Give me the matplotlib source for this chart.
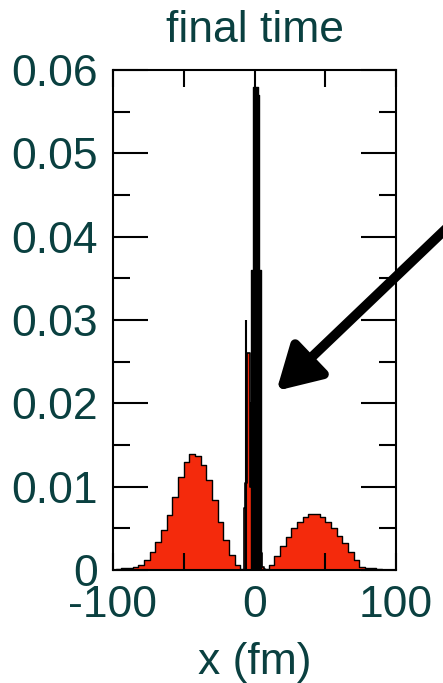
# final-time density profile: broad side humps plus narrow central spike
import matplotlib
matplotlib.use('Agg')
import matplotlib.pyplot as plt
from matplotlib.ticker import FixedLocator, NullFormatter

# broad humps, sampled every 4 fm
hump_x = [-100, -96, -92, -88, -84, -80, -76, -72, -68, -64, -60, -56, -52,
          -48, -44, -40, -36, -32, -28, -24, -20, -16, -12, -8, -4, 0,
          4, 8, 12, 16, 20, 24, 28, 32, 36, 40, 44, 48, 52, 56, 60,
          64, 68, 72, 76, 80, 84, 88, 92, 96, 100]
hump_y = [0, 0.0001, 0.0003, 0.0003, 0.0004, 0.0006, 0.0012, 0.0022, 0.0034,
          0.0048, 0.0066, 0.0088, 0.0112, 0.0130, 0.0139, 0.0137, 0.0126,
          0.0108, 0.0084, 0.0058, 0.0036, 0.0018, 0.0006, 0.0001, 0, 0,
          0, 0.0001, 0.0006, 0.0017, 0.0029, 0.0040, 0.0050, 0.0058, 0.0064,
          0.0067, 0.0067, 0.0064, 0.0058, 0.0050, 0.0041, 0.0032, 0.0022,
          0.0012, 0.0004, 0.0003, 0.0002, 0.0001, 0, 0, 0]

# red base of the central structure, every 1 fm
core_x = [-8, -7, -6, -5, -4, -3, -2, -1, 0, 1, 2, 3, 4, 5, 6, 7, 8]
core_y = [0, 0.0075, 0.0104, 0.026, 0.026, 0.010, 0.020, 0.020, 0.020,
          0.020, 0.020, 0.020, 0.0084, 0.002, 0.0004, 0.0001, 0]

# black spike on top, every 0.5 fm
spike_x = [-2.5, -2, -1.5, -1, -0.5, 0, 0.5, 1, 1.5, 2, 2.5, 3, 3.5, 4, 4.5, 5]
spike_y = [0, 0.036, 0.036, 0.036, 0.058, 0.058, 0.058, 0.058, 0.058, 0.058,
           0.057, 0.057, 0.036, 0.036, 0.036, 0]

# thin needle left of the spike
needle_x = [-5.8]
needle_y = [0.030]

xticks = [-100, 0, 100]
xminor = [-50, 50]
yticks = [0, 0.01, 0.02, 0.03, 0.04, 0.05, 0.06]
yminor = [0.005, 0.015, 0.025, 0.035, 0.045, 0.055]
ytick_labels = ['0', '0.01', '0.02', '0.03', '0.04', '0.05', '0.06']

txt = '#0a4040'
red = '#f42a0c'
plt.rcParams['font.family'] = ['Liberation Sans', 'DejaVu Sans']

fig = plt.figure(figsize=(4.43, 6.83), dpi=100)
ax = fig.add_axes([0.255, 0.1654, 0.639, 0.7321])

ax.fill_between(hump_x, hump_y, step='mid', facecolor=red, edgecolor='black', linewidth=1.0)
ax.fill_between(core_x, core_y, step='mid', facecolor=red, edgecolor='black', linewidth=1.2)
ax.fill_between(spike_x, spike_y, step='mid', facecolor='black', edgecolor='black', linewidth=1.0)
ax.vlines(needle_x, 0, needle_y, color='black', linewidth=1.5)

ax.set_xlim(-100, 100)
ax.set_ylim(0, 0.06)
ax.xaxis.set_major_locator(FixedLocator(xticks))
ax.xaxis.set_minor_locator(FixedLocator(xminor))
ax.set_xticklabels(['-100', '0', '100'])
ax.yaxis.set_major_locator(FixedLocator(yticks))
ax.yaxis.set_minor_locator(FixedLocator(yminor))
ax.set_yticklabels(ytick_labels)
ax.yaxis.set_minor_formatter(NullFormatter())

ax.tick_params(axis='both', which='both', direction='in', top=True, right=True,
               width=1.5, colors='black', labelcolor=txt, labelsize=32)
ax.tick_params(axis='x', which='both', length=12.5, pad=11)
ax.tick_params(axis='y', which='major', length=25, pad=11)
ax.tick_params(axis='y', which='minor', length=12.5)
for s in ax.spines.values():
    s.set_linewidth(1.5)

ax.set_title('final time', fontsize=32, color=txt, pad=20)
ax.set_xlabel('x (fm)', fontsize=32, color=txt, labelpad=11)

# arrow pointing at the central spike
ax.annotate('', xy=(15.5, 0.0215), xycoords='data',
            xytext=(1.01, 0.667), textcoords='figure fraction',
            arrowprops=dict(arrowstyle='-|>,head_length=2.6,head_width=1.5',
                            color='black', lw=7, shrinkA=0, shrinkB=0),
            annotation_clip=False)

fig.savefig('out.png', dpi=100)
